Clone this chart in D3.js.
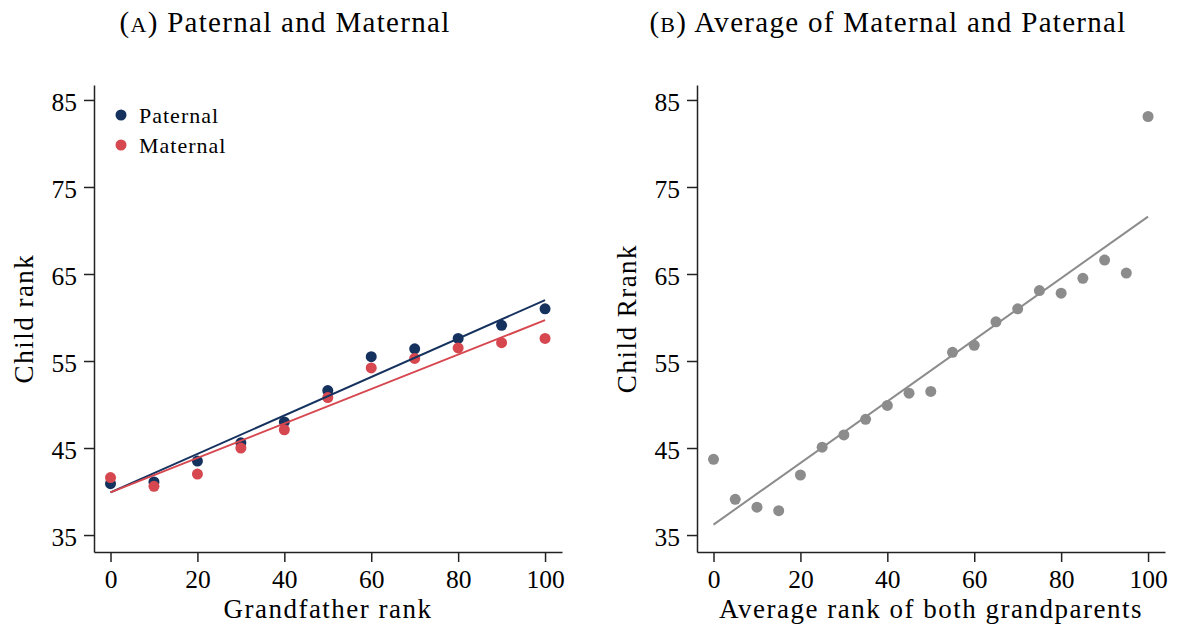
<!DOCTYPE html>
<html>
<head>
<meta charset="utf-8">
<script src="https://cdn.jsdelivr.net/npm/d3@7"></script>
<style>
    body { margin: 0; background: #fff; }
    svg text { font-family: 'Liberation Serif', 'Times New Roman', serif; fill: #000; }
</style>
</head>
<body>
<div id="chart"></div>
<script>
// Panel A: grandfather rank vs child rank
const ranksA = [0, 10, 20, 30, 40, 50, 60, 70, 80, 90, 100];
const paternal = [40.9, 41.1, 43.5, 45.6, 48.0, 51.6, 55.5, 56.4, 57.6, 59.1, 61.0];
const maternal = [41.6, 40.6, 42.0, 45.0, 47.1, 50.8, 54.2, 55.3, 56.5, 57.1, 57.6];
const fitPaternal = [39.9, 62.0];   // fitted values at rank 0 and 100
const fitMaternal = [39.9, 59.7];

// Panel B: average rank of both grandparents
const ranksB = [0, 5, 10, 15, 20, 25, 30, 35, 40, 45, 50, 55, 60, 65, 70, 75, 80, 85, 90, 95, 100];
const avgRank = [43.7, 39.1, 38.2, 37.8, 41.9, 45.1, 46.5, 48.3, 49.9, 51.3, 51.5,
                 56.0, 56.8, 59.5, 61.0, 63.1, 62.8, 64.5, 66.6, 65.1, 83.1];
const fitAvg = [36.2, 71.6];
const fitEnds = [0, 100];

const xTicks = [0, 20, 40, 60, 80, 100];
const yTicks = [35, 45, 55, 65, 75, 85];

const colors = { paternal: '#15315e', maternal: '#d6474f', avg: '#8c8c8c' };

const width = 1178, height = 628;
const plotTop = 85, plotBottom = 552;

const svg = d3.select('#chart')
    .append('svg')
    .attr('width', width)
    .attr('height', height);

const y = d3.scaleLinear().domain([33.05, 86.72]).range([plotBottom, plotTop]);

function drawPanel(left, right, opts) {
    const x = d3.scaleLinear().domain([-3.8, 103.9]).range([left, right]);
    const g = svg.append('g');

    const xAxis = g.append('g')
        .attr('transform', `translate(0,${plotBottom})`)
        .call(d3.axisBottom(x).tickValues(xTicks).tickSize(10).tickSizeOuter(0).tickPadding(8));
    const yAxis = g.append('g')
        .attr('transform', `translate(${left},0)`)
        .call(d3.axisLeft(y).tickValues(yTicks).tickSize(10).tickSizeOuter(0).tickPadding(7));
    yAxis.selectAll('text').attr('dy', '0.42em');

    [xAxis, yAxis].forEach(a => {
        a.selectAll('path, line').attr('stroke', '#222').attr('stroke-width', 1.5);
        a.selectAll('text').attr('font-size', 25.5).attr('font-family', 'Liberation Serif').attr('fill', '#000');
    });

    // scatter
    opts.series.forEach(s => {
        g.selectAll(null)
            .data(s.values)
            .enter()
            .append('circle')
            .attr('cx', (d, i) => x(s.ranks[i]))
            .attr('cy', d => y(d))
            .attr('r', 5.5)
            .attr('fill', s.color);
    });

    // fitted lines
    opts.fits.forEach(f => {
        g.append('line')
            .attr('x1', x(fitEnds[0])).attr('y1', y(f.values[0]))
            .attr('x2', x(fitEnds[1])).attr('y2', y(f.values[1]))
            .attr('stroke', f.color)
            .attr('stroke-width', 2);
    });

    // axis titles
    g.append('text')
        .attr('x', (left + right) / 2)
        .attr('y', 618)
        .attr('text-anchor', 'middle')
        .attr('font-size', 27)
        .attr('letter-spacing', 1.5)
        .text(opts.xTitle);

    g.append('text')
        .attr('transform', `translate(${left - 61},${(plotTop + plotBottom) / 2}) rotate(-90)`)
        .attr('text-anchor', 'middle')
        .attr('font-size', 27)
        .attr('letter-spacing', 1.5)
        .text(opts.yTitle);

    // panel title with small-caps letter
    const t = svg.append('text')
        .attr('x', (left + right) / 2 - 43)
        .attr('y', 32)
        .attr('text-anchor', 'middle')
        .attr('font-size', 29)
        .attr('letter-spacing', 1.3);
    t.append('tspan').text('(');
    t.append('tspan').attr('font-size', 22).text(opts.letter);
    t.append('tspan').text(') ' + opts.title);

    return { g, x };
}

const panelA = drawPanel(94, 562, {
    letter: 'A',
    title: 'Paternal and Maternal',
    xTitle: 'Grandfather rank',
    yTitle: 'Child rank',
    series: [
        { ranks: ranksA, values: paternal, color: colors.paternal },
        { ranks: ranksA, values: maternal, color: colors.maternal }
    ],
    fits: [
        { values: fitPaternal, color: colors.paternal },
        { values: fitMaternal, color: colors.maternal }
    ]
});

drawPanel(697, 1165, {
    letter: 'B',
    title: 'Average of Maternal and Paternal',
    xTitle: 'Average rank of both grandparents',
    yTitle: 'Child Rrank',
    series: [
        { ranks: ranksB, values: avgRank, color: colors.avg }
    ],
    fits: [
        { values: fitAvg, color: colors.avg }
    ]
});

// legend for panel A
const legendItems = [
    { label: 'Paternal', color: colors.paternal },
    { label: 'Maternal', color: colors.maternal }
];
const legend = panelA.g.append('g').attr('transform', 'translate(121,115)');
legend.selectAll('circle')
    .data(legendItems)
    .enter()
    .append('circle')
    .attr('cx', 0)
    .attr('cy', (d, i) => i * 30)
    .attr('r', 5.5)
    .attr('fill', d => d.color);
legend.selectAll('text')
    .data(legendItems)
    .enter()
    .append('text')
    .attr('x', 18)
    .attr('y', (d, i) => i * 30 + 8)
    .attr('font-size', 22)
    .attr('letter-spacing', 1)
    .text(d => d.label);
</script>
</body>
</html>
